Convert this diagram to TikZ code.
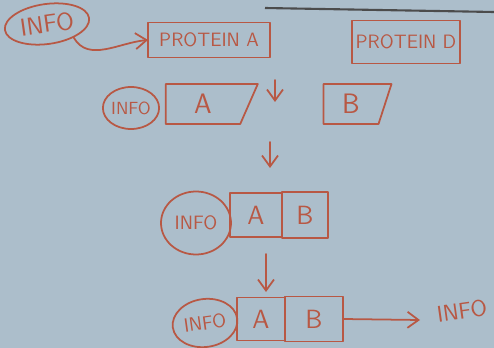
\documentclass[tikz,border=0pt]{standalone}
\usetikzlibrary{arrows.meta,positioning,shapes.geometric}

\definecolor{board}{RGB}{172,190,203}
\definecolor{ink}{RGB}{184,88,68}

\tikzset{
  pen/.style={draw=ink,line width=1pt,line cap=round,line join=round},
  lbl/.style={text=ink,font=\sffamily,inner sep=0pt},
  blob/.style={pen,ellipse,lbl,inner sep=0pt},
  box/.style={pen,rectangle,lbl,inner sep=0pt,outer sep=0pt},
  slant/.style={pen,trapezium,trapezium left angle=90,trapezium right angle=102,
    trapezium stretches=true,lbl,inner sep=0pt},
  barb/.style={pen,-{Straight Barb[length=2.2mm,width=3.2mm]}}
}

\begin{document}
\begin{tikzpicture}[x=0.02cm,y=-0.02cm]
\fill[board] (0,0) rectangle (494,348);
\useasboundingbox (0,0) rectangle (494,348);
\draw[black!70,line width=1.2pt] (265,8) -- (494,12);

% first row
\node[blob,minimum width=85*0.02cm,minimum height=40*0.02cm,font=\sffamily\fontsize{14}{14}\selectfont,rotate=8] (info1) at (47,24) {INFO};
\node[box,minimum width=122*0.02cm,minimum height=35*0.02cm,font=\sffamily\fontsize{11}{11}\selectfont] (pa) at (209,40) {PROTEIN A};
\node[box,minimum width=108*0.02cm,minimum height=43*0.02cm,font=\sffamily\fontsize{11}{11}\selectfont] (pd) at (406,42) {PROTEIN D};
\draw[barb] (info1.-35) to[out=-60,in=185] (pa.west);

% split
\coordinate (s1) at (275,80);
\coordinate (s2) at (275,102);
\draw[barb] (s1) -- (s2);
\node[blob,minimum width=48*0.02cm,minimum height=42*0.02cm,font=\sffamily\fontsize{10}{10}\selectfont] (info2) at (131,108) {INFO};
\node[slant,minimum width=92*0.02cm,minimum height=40*0.02cm,font=\sffamily\fontsize{16}{16}\selectfont] (a2) at (203,104) {A};
\node[slant,minimum width=68*0.02cm,minimum height=40*0.02cm,font=\sffamily\fontsize{16}{16}\selectfont] (b2) at (351,104) {B};

% join
\coordinate (j1) at (270,142);
\coordinate (j2) at (270,168);
\draw[barb] (j1) -- (j2);
\node[blob,minimum width=70*0.02cm,minimum height=63*0.02cm,font=\sffamily\fontsize{11}{11}\selectfont] (info3) at (196,223) {INFO};
\node[box,minimum width=52*0.02cm,minimum height=44*0.02cm,font=\sffamily\fontsize{15}{15}\selectfont] (a3) at (256,215) {A};
\node[box,minimum width=46*0.02cm,minimum height=46*0.02cm,font=\sffamily\fontsize{15}{15}\selectfont,right=0pt of a3] (b3) {B};

% release
\coordinate (r1) at (266,254);
\coordinate (r2) at (266,292);
\draw[barb] (r1) -- (r2);
\node[blob,minimum width=65*0.02cm,minimum height=48*0.02cm,font=\sffamily\fontsize{11}{11}\selectfont,rotate=8] (info4) at (205,323) {INFO};
\node[box,minimum width=48*0.02cm,minimum height=43*0.02cm,font=\sffamily\fontsize{15}{15}\selectfont] (a4) at (261,319) {A};
\node[box,minimum width=58*0.02cm,minimum height=45*0.02cm,font=\sffamily\fontsize{15}{15}\selectfont,right=0pt of a4] (b4) {B};
\node[lbl,font=\sffamily\fontsize{13}{13}\selectfont,rotate=8] (info5) at (462,311) {INFO};
\coordinate (out) at (420,320);
\draw[barb] (b4.east) -- (out);
\end{tikzpicture}
\end{document}
